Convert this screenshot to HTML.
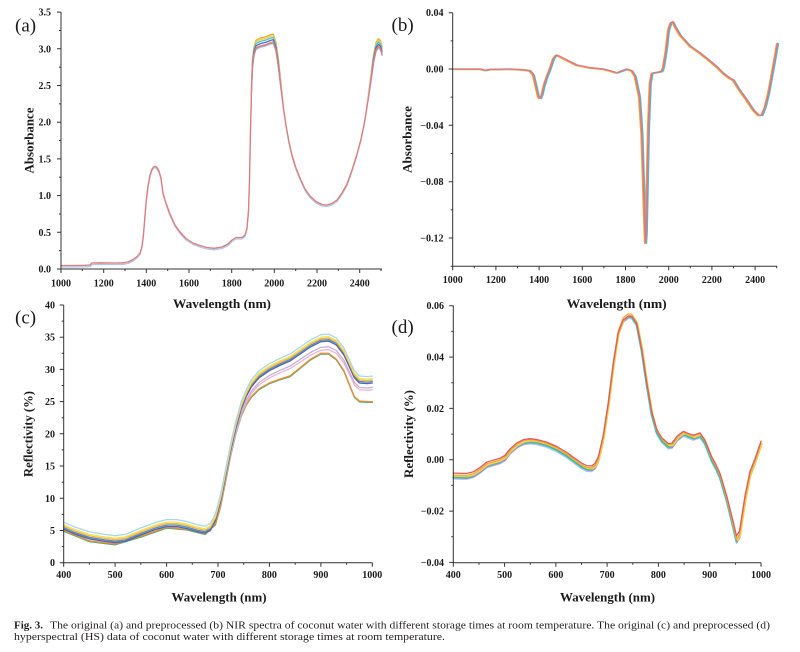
<!DOCTYPE html>
<html><head><meta charset="utf-8"><style>
html,body{margin:0;padding:0;background:#fff}
svg{display:block}
.tk{font-family:"Liberation Serif",serif;font-weight:bold;font-size:10px;fill:#1a1a1a}
.lb{font-family:"Liberation Serif",serif;font-weight:bold;font-size:13px;fill:#1a1a1a}
.pl{font-family:"Liberation Serif",serif;font-size:19px;fill:#1a1a1a}
.cap{font-family:"Liberation Serif",serif;font-size:11px;fill:#231f20}
.ax{stroke:#333;stroke-width:1;fill:none}
.c{fill:none;stroke-width:1.3;stroke-linejoin:round;stroke-linecap:round}
</style></head><body>
<svg width="800" height="652" viewBox="0 0 800 652" xmlns="http://www.w3.org/2000/svg">
<defs>
<linearGradient id="gm" gradientUnits="userSpaceOnUse" x1="0" y1="60" x2="0" y2="110">
<stop offset="0" stop-color="#fff"/><stop offset="1" stop-color="#000"/>
</linearGradient>
<mask id="ma" maskUnits="userSpaceOnUse" x="0" y="0" width="400" height="300"><rect x="0" y="0" width="400" height="300" fill="url(#gm)"/></mask>
<path id="pa" d="M61,265.5 L75,265.5 85,265.3 90,265 92,263 100,262.8 115,263 123,262.8 128,262 133,259.5 137,256.5 140,253 142,246 143.5,234 145,215 146.5,198 148,186 150,175 152,169 154,166.5 155.5,166.3 157,167.5 159,171 161,178 163,193 166,203 170,214 175,225 180,232 186,238.5 193,243 200,245.5 207,247.5 214,248.3 222,247 228,244 232,240 236,237.5 242,237.5 245,235 247,228 248.5,210 249.5,180 250.5,130 251.5,90 252.5,66 254,54 256,48 260,46 266,44.5 271,42.5 273.3,42 276,50 278.5,67 281,88 283.5,108 286,125 289,142 292,155 296,168 300,178 305,189 310,196 316,201.5 322,204.5 327,205 332,203.5 337,200 342,193 347,184 352,170 357,154 361,139 364.5,122 368,100 371,80 373.5,62 376,50 378.5,46.5 380.5,48.5 382,54"/>
<path id="pb" d="M453.3,69 L480,69 485,70.3 490,69.3 510,69 523.3,69.7 530,70.7 533.3,75 536,86.7 538.3,96.7 540,98.3 541.7,95 544,85 546.7,76.7 550,68.3 553.3,58.3 556,55 558.3,55.7 563.3,58.3 576.7,65 590,67.7 603.3,69 610,70.7 616.7,72.7 621.7,70.7 626.7,69 631.7,70.7 635,76 639.3,96.7 641.7,133.3 643.3,183.3 644.7,226.7 645.3,243 646,233.3 647,186.7 648.3,126.7 650,83.3 651.7,73.3 655,72.5 658.3,72 661.7,71 663.3,66.7 666,50 668.3,30 670.7,22.7 672.7,21.7 675.3,27 680,35 690,46 700,53 710,61 716.7,66.7 723.3,73.3 730,78.3 733.3,80 738.3,88.3 746.7,100 753.3,110 758.3,115 761.7,115 765,106.7 768.3,93.3 771.7,75 775,56.7 777.3,43.3"/>
<path id="pc" d="M63.7,529.2 L74,533.7 89.4,538.9 104.8,541.4 115.1,542.7 125.4,541.4 140.8,535 156.3,529.2 166.6,526.6 176.8,526.6 187.1,528.6 197.4,531.8 205.1,533.1 210.3,530.5 215.4,520.8 220.6,501.5 225.7,475.7 230.8,450 236,427.4 241.1,409.4 246.3,396.5 251.4,386.8 259.1,377.8 269.4,370.7 279.7,365.5 290,361 300.3,354 310.6,346.9 320.9,341.7 328.6,341.1 336.3,344.9 344,355.2 349.1,366.2 354.3,377.8 359.4,383 367.1,383.6 372.3,383"/>
<path id="pc2" d="M63.7,530.5 L89.4,540.8 115.1,544 140.8,536.3 166.6,527.3 187.1,529.2 205.1,533.7 215.4,524 220.6,506 225.7,480.2 230.8,454.5 236,432.6 241.1,415.8 246.3,404.2 251.4,396.5 259.1,388.7 269.4,382.9 279.7,379.1 290,375.9 300.3,367.5 310.6,359.1 320.9,353.3 328.6,353.3 336.3,359.1 344,370.7 349.1,383.6 354.3,396.5 359.4,401 367.1,401.6 372.3,401.6"/>
<path id="pd" d="M453.3,476.7 L466.7,477 473,475.5 480,471 486.7,465.5 493.3,463.5 500,461.5 505,458.5 510,452 516.7,446 523.3,442.5 530,441.5 536.7,442.3 546.7,445 556.7,449.5 566.7,455.5 575,461.7 581.7,466.5 586.7,469 591.7,469.3 595,466.7 598.3,460 603.3,438 608.3,405 613.3,365 618.3,333 623.3,320 628.3,316 631.7,316.5 636.7,324 641.7,350 646.7,384 651.7,414 656.7,432 661.7,440.5 668.3,446.5 672,446 677,439 683.3,434 688,436 693.3,438 700,435.5 705,443 711.7,460 716,468 720,477 726.7,500 733.3,527 736.5,541 739.5,536 745,500 750,475 755,462 761,444"/>
</defs>

<!-- Panel a curves -->
<g class="c">
<use href="#pa" stroke="#a9cbe6" transform="translate(0,1.5)"/>
<g mask="url(#ma)">
<use href="#pa" stroke="#f2a93b" transform="matrix(1,0,0,1.035,0,-9.415)"/>
<use href="#pa" stroke="#f0d24a" transform="matrix(1,0,0,1.028,0,-7.53)"/>
<use href="#pa" stroke="#3fc6d6" transform="matrix(1,0,0,1.02,0,-5.38)"/>
<use href="#pa" stroke="#5a6bb0" transform="matrix(1,0,0,1.01,0,-2.69)"/>
<use href="#pa" stroke="#b48cc8" transform="matrix(1,0,0,0.998,0,0.538)"/>
</g>
<use href="#pa" stroke="#e27a7a"/>
</g>
<!-- Panel b curves -->
<g class="c">
<use href="#pb" stroke="#3fc6d6" transform="translate(1.2,0.5)"/>
<use href="#pb" stroke="#f2a93b" transform="translate(-0.8,0.5)"/>
<use href="#pb" stroke="#9a8cc8" transform="translate(0.5,0)"/>
<use href="#pb" stroke="#e27a7a"/>
</g>
<!-- Panel c curves -->
<g class="c">
<use href="#pc2" stroke="#4caf6a" transform="translate(0,0.8)"/>
<use href="#pc2" stroke="#f08a3c"/>
<use href="#pc" stroke="#e8b4cc" transform="matrix(1,0,0,0.955,0,23.9)"/>
<use href="#pc" stroke="#c4aedc" transform="matrix(1,0,0,0.97,0,15.9)"/>
<use href="#pc" stroke="#4a90c4" transform="translate(0,-1.5)"/>
<use href="#pc" stroke="#5b62a6"/>
<use href="#pc" stroke="#f2b640" transform="translate(0,-3)"/>
<use href="#pc" stroke="#f3e05a" transform="translate(0,-4.5)"/>
<use href="#pc" stroke="#a9d6ec" transform="translate(0,-7)"/>
</g>
<!-- Panel d curves -->
<g class="c">
<use href="#pd" stroke="#a9cbe6" transform="translate(0,2.3)"/>
<use href="#pd" stroke="#9a8cc8" transform="translate(0.5,1.2)"/>
<use href="#pd" stroke="#3fc6d6" transform="translate(-0.5,0.6)"/>
<use href="#pd" stroke="#4caf6a" transform="translate(0.3,0)"/>
<use href="#pd" stroke="#f2d24a" transform="translate(1,-0.5)"/>
<use href="#pd" stroke="#f2a93b" transform="matrix(1,0,0,1.004,0,-3.5)"/>
<use href="#pd" stroke="#e25a5a" transform="matrix(1,0,0,0.978,0,6.9)"/>
</g>

<!-- Axes a -->
<path class="ax" d="M61,12V269H382"/>
<path class="ax" d="M57,269H61M57,232.3H61M57,195.6H61M57,158.9H61M57,122.2H61M57,85.5H61M57,48.8H61M57,12.1H61
M59,250.65H61M59,213.95H61M59,177.25H61M59,140.55H61M59,103.85H61M59,67.15H61M59,30.45H61
M61,269V273M103.7,269V273M146.3,269V273M189,269V273M231.7,269V273M274.3,269V273M317,269V273M359.7,269V273
M82.3,269V271M125,269V271M167.7,269V271M210.3,269V271M253,269V271M295.7,269V271M338.3,269V271M381,269V271"/>
<g class="tk" text-anchor="end">
<text x="51" y="272.5">0.0</text><text x="51" y="235.8">0.5</text><text x="51" y="199.1">1.0</text><text x="51" y="162.4">1.5</text><text x="51" y="125.7">2.0</text><text x="51" y="89">2.5</text><text x="51" y="52.3">3.0</text><text x="51" y="15.6">3.5</text>
</g>
<g class="tk" text-anchor="middle">
<text x="61" y="286.5">1000</text><text x="103.7" y="286.5">1200</text><text x="146.3" y="286.5">1400</text><text x="189" y="286.5">1600</text><text x="231.7" y="286.5">1800</text><text x="274.3" y="286.5">2000</text><text x="317" y="286.5">2200</text><text x="359.7" y="286.5">2400</text>
</g>
<text class="lb" x="222" y="308" text-anchor="middle" textLength="98" lengthAdjust="spacingAndGlyphs">Wavelength (nm)</text>
<text class="lb" transform="translate(33.3,140.5) rotate(-90)" text-anchor="middle" textLength="66" lengthAdjust="spacingAndGlyphs">Absorbance</text>
<text class="pl" x="15" y="31.5">(a)</text>

<!-- Axes b -->
<path class="ax" d="M452.7,12.7V266.2H777"/>
<path class="ax" d="M448.7,12.7H452.7M448.7,69H452.7M448.7,125.3H452.7M448.7,181.7H452.7M448.7,238H452.7
M450.7,40.85H452.7M450.7,97.15H452.7M450.7,153.5H452.7M450.7,209.85H452.7M450.7,266.2H452.7
M452.7,266.2V270.2M495.9,266.2V270.2M539.1,266.2V270.2M582.3,266.2V270.2M625.5,266.2V270.2M668.7,266.2V270.2M711.9,266.2V270.2M755.1,266.2V270.2
M474.3,266.2V268.2M517.5,266.2V268.2M560.7,266.2V268.2M603.9,266.2V268.2M647.1,266.2V268.2M690.3,266.2V268.2M733.5,266.2V268.2M776.7,266.2V268.2"/>
<g class="tk" text-anchor="end">
<text x="443.5" y="16.2">0.04</text><text x="443.5" y="72.5">0.00</text><text x="443.5" y="128.8">−0.04</text><text x="443.5" y="185.2">−0.08</text><text x="443.5" y="241.5">−0.12</text>
</g>
<g class="tk" text-anchor="middle">
<text x="452.7" y="283">1000</text><text x="495.9" y="283">1200</text><text x="539.1" y="283">1400</text><text x="582.3" y="283">1600</text><text x="625.5" y="283">1800</text><text x="668.7" y="283">2000</text><text x="711.9" y="283">2200</text><text x="755.1" y="283">2400</text>
</g>
<text class="lb" x="616.7" y="308" text-anchor="middle" textLength="100" lengthAdjust="spacingAndGlyphs">Wavelength (nm)</text>
<text class="lb" transform="translate(411.7,139.5) rotate(-90)" text-anchor="middle" textLength="67" lengthAdjust="spacingAndGlyphs">Absorbance</text>
<text class="pl" x="391.5" y="31">(b)</text>

<!-- Axes c -->
<path class="ax" d="M63.7,305V562.7H372.3"/>
<path class="ax" d="M59.7,562.7H63.7M59.7,530.5H63.7M59.7,498.3H63.7M59.7,466H63.7M59.7,433.8H63.7M59.7,401.6H63.7M59.7,369.4H63.7M59.7,337.2H63.7M59.7,305H63.7
M61.7,546.6H63.7M61.7,514.4H63.7M61.7,482.2H63.7M61.7,449.9H63.7M61.7,417.7H63.7M61.7,385.5H63.7M61.7,353.3H63.7M61.7,321.1H63.7
M63.7,562.7V566.7M115.1,562.7V566.7M166.6,562.7V566.7M218,562.7V566.7M269.4,562.7V566.7M320.9,562.7V566.7M372.3,562.7V566.7
M89.4,562.7V564.7M140.9,562.7V564.7M192.3,562.7V564.7M243.7,562.7V564.7M295.2,562.7V564.7M346.6,562.7V564.7"/>
<g class="tk" text-anchor="end">
<text x="55" y="566.2">0</text><text x="55" y="534">5</text><text x="55" y="501.8">10</text><text x="55" y="469.5">15</text><text x="55" y="437.3">20</text><text x="55" y="405.1">25</text><text x="55" y="372.9">30</text><text x="55" y="340.7">35</text><text x="55" y="308.5">40</text>
</g>
<g class="tk" text-anchor="middle">
<text x="63.7" y="578">400</text><text x="115.1" y="578">500</text><text x="166.6" y="578">600</text><text x="218" y="578">700</text><text x="269.4" y="578">800</text><text x="320.9" y="578">900</text><text x="372.3" y="578">1000</text>
</g>
<text class="lb" x="219" y="601.5" text-anchor="middle" textLength="95" lengthAdjust="spacingAndGlyphs">Wavelength (nm)</text>
<text class="lb" transform="translate(32.5,434) rotate(-90)" text-anchor="middle" textLength="86" lengthAdjust="spacingAndGlyphs">Reflectivity (%)</text>
<text class="pl" x="15" y="323.5">(c)</text>

<!-- Axes d -->
<path class="ax" d="M453.3,305.7V562.7H761"/>
<path class="ax" d="M449.3,305.7H453.3M449.3,357.1H453.3M449.3,408.4H453.3M449.3,459.7H453.3M449.3,511.1H453.3M449.3,562.4H453.3
M451.3,331.4H453.3M451.3,382.8H453.3M451.3,434.1H453.3M451.3,485.4H453.3M451.3,536.8H453.3
M453.3,562.7V566.7M504.6,562.7V566.7M555.9,562.7V566.7M607.1,562.7V566.7M658.4,562.7V566.7M709.7,562.7V566.7M761,562.7V566.7
M479,562.7V564.7M530.3,562.7V564.7M581.5,562.7V564.7M632.8,562.7V564.7M684.1,562.7V564.7M735.4,562.7V564.7"/>
<g class="tk" text-anchor="end">
<text x="444" y="309.2">0.06</text><text x="444" y="360.6">0.04</text><text x="444" y="411.9">0.02</text><text x="444" y="463.2">0.00</text><text x="444" y="514.6">−0.02</text><text x="444" y="565.9">−0.04</text>
</g>
<g class="tk" text-anchor="middle">
<text x="453.3" y="578">400</text><text x="504.6" y="578">500</text><text x="555.9" y="578">600</text><text x="607.1" y="578">700</text><text x="658.4" y="578">800</text><text x="709.7" y="578">900</text><text x="761" y="578">1000</text>
</g>
<text class="lb" x="607.5" y="601.5" text-anchor="middle" textLength="95" lengthAdjust="spacingAndGlyphs">Wavelength (nm)</text>
<text class="lb" transform="translate(413,434) rotate(-90)" text-anchor="middle" textLength="88" lengthAdjust="spacingAndGlyphs">Reflectivity (%)</text>
<text class="pl" x="391.5" y="333">(d)</text>

<!-- Caption -->
<text class="cap" x="14" y="628.5" font-weight="bold" textLength="29" lengthAdjust="spacingAndGlyphs">Fig. 3.</text>
<text class="cap" x="50" y="628.5" textLength="720" lengthAdjust="spacingAndGlyphs">The original (a) and preprocessed (b) NIR spectra of coconut water with different storage times at room temperature. The original (c) and preprocessed (d)</text>
<text class="cap" x="14" y="640" textLength="431" lengthAdjust="spacingAndGlyphs">hyperspectral (HS) data of coconut water with different storage times at room temperature.</text>
</svg>
</body></html>
